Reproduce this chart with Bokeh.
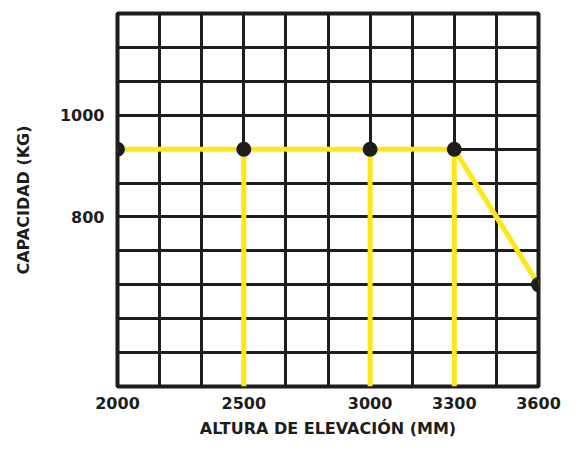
from bokeh.plotting import figure
from bokeh.models import Range1d, FixedTicker, SingleIntervalTicker
from bokeh.embed import file_html
from bokeh.resources import INLINE

# Data
x_labels = ["2000", "2500", "3000", "3300", "3600"]
x_pos = [0, 3, 6, 8, 10]            # column index on the grid
capacity = [933, 933, 933, 933, 667]  # kg
drop_idx = [1, 2, 3]                 # points with vertical drop lines
y_ticks = [800, 1000]

INK = "#1d1d1b"
YELLOW = "#ffe61a"
FONT = "DejaVu Sans"

y_start, y_end = 1000 - 8 * 200 / 3, 1200
x_start, x_end = 0, 10

p = figure(width=563, height=440, output_backend="svg", toolbar_location=None,
           x_range=Range1d(x_start, x_end), y_range=Range1d(y_start, y_end),
           min_border_left=117, min_border_top=13, min_border_right=25,
           min_border_bottom=54)

p.background_fill_color = "white"
p.border_fill_color = "white"
p.outline_line_color = INK
p.outline_line_width = 4

# grid
p.xgrid.ticker = SingleIntervalTicker(interval=1)
p.ygrid.ticker = FixedTicker(ticks=[y_start + k * 200 / 3 for k in range(12)])
for g in (p.xgrid, p.ygrid):
    g.grid_line_color = INK
    g.grid_line_width = 3
    g.grid_line_alpha = 1

# axes
p.xaxis.ticker = FixedTicker(ticks=x_pos)
p.xaxis.major_label_overrides = {xp: lab for xp, lab in zip(x_pos, x_labels)}
p.yaxis.ticker = FixedTicker(ticks=y_ticks)
for ax in (p.xaxis, p.yaxis):
    ax.axis_line_color = None
    ax.major_tick_line_color = None
    ax.minor_tick_line_color = None
    ax.major_label_text_font = FONT
    ax.major_label_text_font_style = "bold"
    ax.major_label_text_font_size = "16px"
    ax.major_label_text_color = INK
    ax.axis_label_text_font = FONT
    ax.axis_label_text_font_style = "bold"
    ax.axis_label_text_font_size = "16px"
    ax.axis_label_text_color = INK
p.xaxis.major_label_standoff = 4
p.yaxis.major_label_standoff = 7
p.xaxis.axis_label = "ALTURA DE ELEVACIÓN (MM)"
p.yaxis.axis_label = "CAPACIDAD (KG)"
p.xaxis.axis_label_standoff = 7
p.yaxis.axis_label_standoff = 24

# drop lines
p.segment(x0=[x_pos[i] for i in drop_idx], y0=[capacity[i] for i in drop_idx],
          x1=[x_pos[i] for i in drop_idx], y1=[y_start] * len(drop_idx),
          line_color=YELLOW, line_width=5)
p.line(x_pos, capacity, line_color=YELLOW, line_width=5)
p.scatter(x_pos, capacity, size=15, fill_color=INK, line_color=None)

open("out.html", "w").write(file_html(p, INLINE))
